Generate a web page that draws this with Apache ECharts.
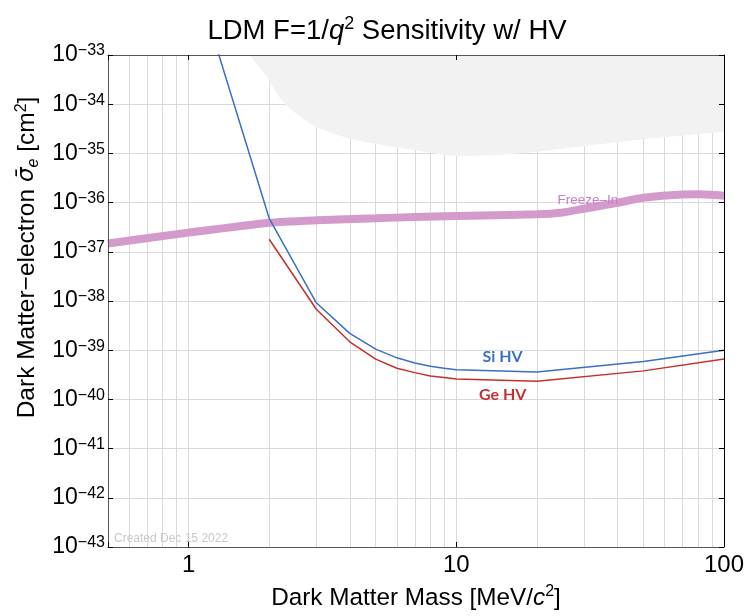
<!DOCTYPE html>
<html><head><meta charset="utf-8">
<script src="https://cdn.jsdelivr.net/npm/echarts@6/dist/echarts.min.js"></script>
<style>html,body{margin:0;padding:0;background:#fff}#c{width:746px;height:616px}</style>
</head><body><div id="c"></div>
<script>
// ---- data (mass in MeV/c^2, cross-section in cm^2) ----
const massSi   = [1, 2, 3, 4, 5, 6, 7, 8, 9, 10, 20, 50, 100];
const sigmaSi  = [1e-31, 4.8e-37, 9.2e-39, 2.2e-39, 1.05e-39, 7.0e-40, 5.5e-40, 4.7e-40, 4.3e-40, 4.0e-40, 3.6e-40, 5.9e-40, 1.0e-39];
const massGe   = [2, 3, 4, 5, 6, 7, 8, 9, 10, 20, 50, 100];
const sigmaGe  = [1.8e-37, 6.8e-39, 1.48e-39, 6.6e-40, 4.3e-40, 3.5e-40, 3.0e-40, 2.8e-40, 2.6e-40, 2.35e-40, 3.8e-40, 6.6e-40];
const massFreeze  = [0.5, 1, 2, 3, 5, 7, 10, 20, 25, 30, 40, 50, 70, 80, 100];
const sigmaFreeze = [1.48e-37, 2.45e-37, 3.9e-37, 4.37e-37, 4.8e-37, 5.1e-37, 5.37e-37, 5.78e-37, 6.3e-37, 7.5e-37, 9.9e-37, 1.25e-36, 1.46e-36, 1.47e-36, 1.38e-36];
const massExcl  = [1.6, 1.7, 1.96, 2.25, 2.61, 3.0, 4.0, 5.3, 7.3, 10, 14.6, 20, 30, 50, 100];
const sigmaExcl = [3e-33, 1e-33, 3.6e-34, 1.12e-34, 5.6e-35, 3.5e-35, 2.0e-35, 1.48e-35, 1.12e-35, 8.9e-36, 9.3e-36, 1.08e-35, 1.41e-35, 1.94e-35, 2.76e-35];
const xGridLines = [0.6, 0.7, 0.8, 0.9, 1, 2, 3, 4, 5, 6, 7, 8, 9, 10, 20, 30, 40, 50, 60, 70, 80, 90];
const yExponents = [-42, -41, -40, -39, -38, -37, -36, -35, -34];
const labelSi = {mass: 14.9, sigma: 7.4e-40, text: 'Si HV'};
const labelGe = {mass: 14.9, sigma: 1.23e-40, text: 'Ge HV'};
const labelFreeze = {mass: 31, sigma: 1.12e-36, text: 'Freeze\u2013In'};

const FONT = '"Liberation Sans", Arial, Helvetica, sans-serif';
const toXY = (xs, ys) => xs.map((x, i) => [x, Math.log10(ys[i])]);
const isPow10 = v => Math.abs(Math.log10(v) - Math.round(Math.log10(v))) < 1e-6;

const chart = echarts.init(document.getElementById('c'), null, {renderer: 'canvas'});
const option = {
  animation: false,
  backgroundColor: '#fff',
  title: {
    text: '{t|LDM F=1/}{q|q}{p|2}{t| Sensitivity w/ HV}',
    left: 382, top: 10, textAlign: 'center',
    textStyle: { fontWeight: 'normal', rich: {
      t: {fontFamily: FONT, fontSize: 27.5, fontWeight: 'normal', color: '#000', lineHeight: 32},
      q: {fontFamily: FONT, fontSize: 27.5, fontWeight: 'normal', fontStyle: 'italic', color: '#000', lineHeight: 32},
      p: {fontFamily: FONT, fontSize: 18, fontWeight: 'normal', color: '#000', verticalAlign: 'top', lineHeight: 20}
    }}
  },
  grid: {left: 108, right: 22, top: 55, bottom: 69, outerBoundsMode: 'none', containLabel: false},
  xAxis: [
    {
      type: 'log', logBase: 10, min: 0.5, max: 100, position: 'bottom', z: 10,
      axisLine: {show: true, lineStyle: {color: '#555', width: 1}},
      axisTick: {show: true, inside: true, length: 5, lineStyle: {color: '#000'}},
      axisLabel: {show: true, showMinLabel: true, showMaxLabel: true, margin: 6,
        formatter: v => isPow10(v) ? String(Math.round(v)) : '',
        fontFamily: FONT, fontSize: 24, color: '#000'},
      splitLine: {show: false}, minorTick: {show: false}, minorSplitLine: {show: false},
      name: '{n|Dark Matter Mass [MeV/}{i|c}{p|2}{n|]}',
      nameLocation: 'middle', nameGap: 37,
      nameTextStyle: { rich: {
        n: {fontFamily: FONT, fontSize: 24.3, color: '#000', lineHeight: 28},
        i: {fontFamily: FONT, fontSize: 24.3, fontStyle: 'italic', color: '#000', lineHeight: 28},
        p: {fontFamily: FONT, fontSize: 16, color: '#000', verticalAlign: 'top', lineHeight: 16}
      }}
    },
    {
      type: 'log', logBase: 10, min: 0.5, max: 100, position: 'top', z: 10,
      axisLine: {show: true, lineStyle: {color: '#555', width: 1}},
      axisTick: {show: true, inside: true, length: 5, lineStyle: {color: '#000'}},
      axisLabel: {show: false}, splitLine: {show: false}
    }
  ],
  yAxis: [
    {
      type: 'value', min: -43, max: -33, interval: 1, position: 'left', z: 10,
      axisLine: {show: true, lineStyle: {color: '#555', width: 1}},
      axisTick: {show: true, inside: true, length: 5, lineStyle: {color: '#000'}},
      axisLabel: {show: true, showMinLabel: true, showMaxLabel: true, margin: 3,
        formatter: v => '{b|10}{s|\u2212' + Math.abs(v) + '}',
        rich: {
          b: {fontFamily: FONT, fontSize: 23, color: '#000', lineHeight: 24},
          s: {fontFamily: FONT, fontSize: 16, color: '#000', verticalAlign: 'top', lineHeight: 10}
        }},
      splitLine: {show: false},
      name: '{n|Dark Matter\u2212electron }{g|\u03C3\u0304}{e|e}{n| [cm}{p|2}{n|]}',
      nameLocation: 'middle', nameGap: 66, nameRotate: 90,
      nameTextStyle: { padding: [0, 0, 0, 87], rich: {
        n: {fontFamily: FONT, fontSize: 24.5, color: '#000', lineHeight: 28},
        g: {fontFamily: '"DejaVu Sans", sans-serif', fontSize: 23, fontStyle: 'italic', color: '#000', lineHeight: 28},
        e: {fontFamily: FONT, fontSize: 16, fontStyle: 'italic', color: '#000', verticalAlign: 'bottom', lineHeight: 14},
        p: {fontFamily: FONT, fontSize: 16, color: '#000', verticalAlign: 'top', lineHeight: 14}
      }}
    },
    {
      type: 'value', min: -43, max: -33, interval: 1, position: 'right', z: 10,
      axisLine: {show: true, lineStyle: {color: '#000', width: 1}},
      axisTick: {show: true, inside: true, length: 5, lineStyle: {color: '#000'}},
      axisLabel: {show: false}, splitLine: {show: false}
    }
  ],
  graphic: [{
    type: 'text', left: 114, top: 533, z: 20,
    style: {text: 'Created Dec 15 2022', fill: '#c8c8c8', font: '12px ' + FONT}
  }],
  series: [
    {
      name: 'excluded', type: 'line', data: toXY(massExcl, sigmaExcl), smooth: 0.3,
      symbol: 'none', silent: true, z: 2,
      lineStyle: {width: 0, opacity: 0},
      areaStyle: {color: '#f2f2f2', opacity: 1, origin: 'end'},
      markLine: {
        silent: true, symbol: ['none', 'none'], z: 1, animation: false,
        label: {show: false},
        lineStyle: {color: '#d9d9d9', width: 1, type: 'solid'},
        emphasis: {disabled: true},
        data: xGridLines.map(x => ({xAxis: x})).concat(yExponents.map(y => ({yAxis: y})))
      }
    },
    {
      name: 'Freeze-In', type: 'line', data: toXY(massFreeze, sigmaFreeze), smooth: 0.2,
      symbol: 'none', silent: true, z: 4,
      lineStyle: {color: '#d39bcb', width: 8},
      markPoint: {
        silent: true, z: 12, symbol: 'circle', symbolSize: 1, itemStyle: {color: 'rgba(0,0,0,0)'},
        label: {show: true, position: 'inside', formatter: labelFreeze.text, color: '#c97fc0', fontFamily: FONT, fontSize: 13.5},
        data: [{coord: [labelFreeze.mass, Math.log10(labelFreeze.sigma)]}]
      }
    },
    {
      name: 'Si HV', type: 'line', data: toXY(massSi, sigmaSi),
      symbol: 'none', silent: true, z: 5,
      lineStyle: {color: '#3a6fc6', width: 1.5},
      markPoint: {
        silent: true, symbol: 'circle', symbolSize: 1, itemStyle: {color: 'rgba(0,0,0,0)'},
        label: {show: true, position: 'inside', formatter: labelSi.text, color: '#3a6fc6', fontFamily: 'Lato, "Open Sans", sans-serif', fontWeight: 'bold', fontSize: 16},
        data: [{coord: [labelSi.mass, Math.log10(labelSi.sigma)]}]
      }
    },
    {
      name: 'Ge HV', type: 'line', data: toXY(massGe, sigmaGe),
      symbol: 'none', silent: true, z: 5,
      lineStyle: {color: '#c3302f', width: 1.5},
      markPoint: {
        silent: true, symbol: 'circle', symbolSize: 1, itemStyle: {color: 'rgba(0,0,0,0)'},
        label: {show: true, position: 'inside', formatter: labelGe.text, color: '#c3302f', fontFamily: 'Lato, "Open Sans", sans-serif', fontWeight: 'bold', fontSize: 16},
        data: [{coord: [labelGe.mass, Math.log10(labelGe.sigma)]}]
      }
    }
  ]
};
chart.setOption(option);
</script>
</body></html>
